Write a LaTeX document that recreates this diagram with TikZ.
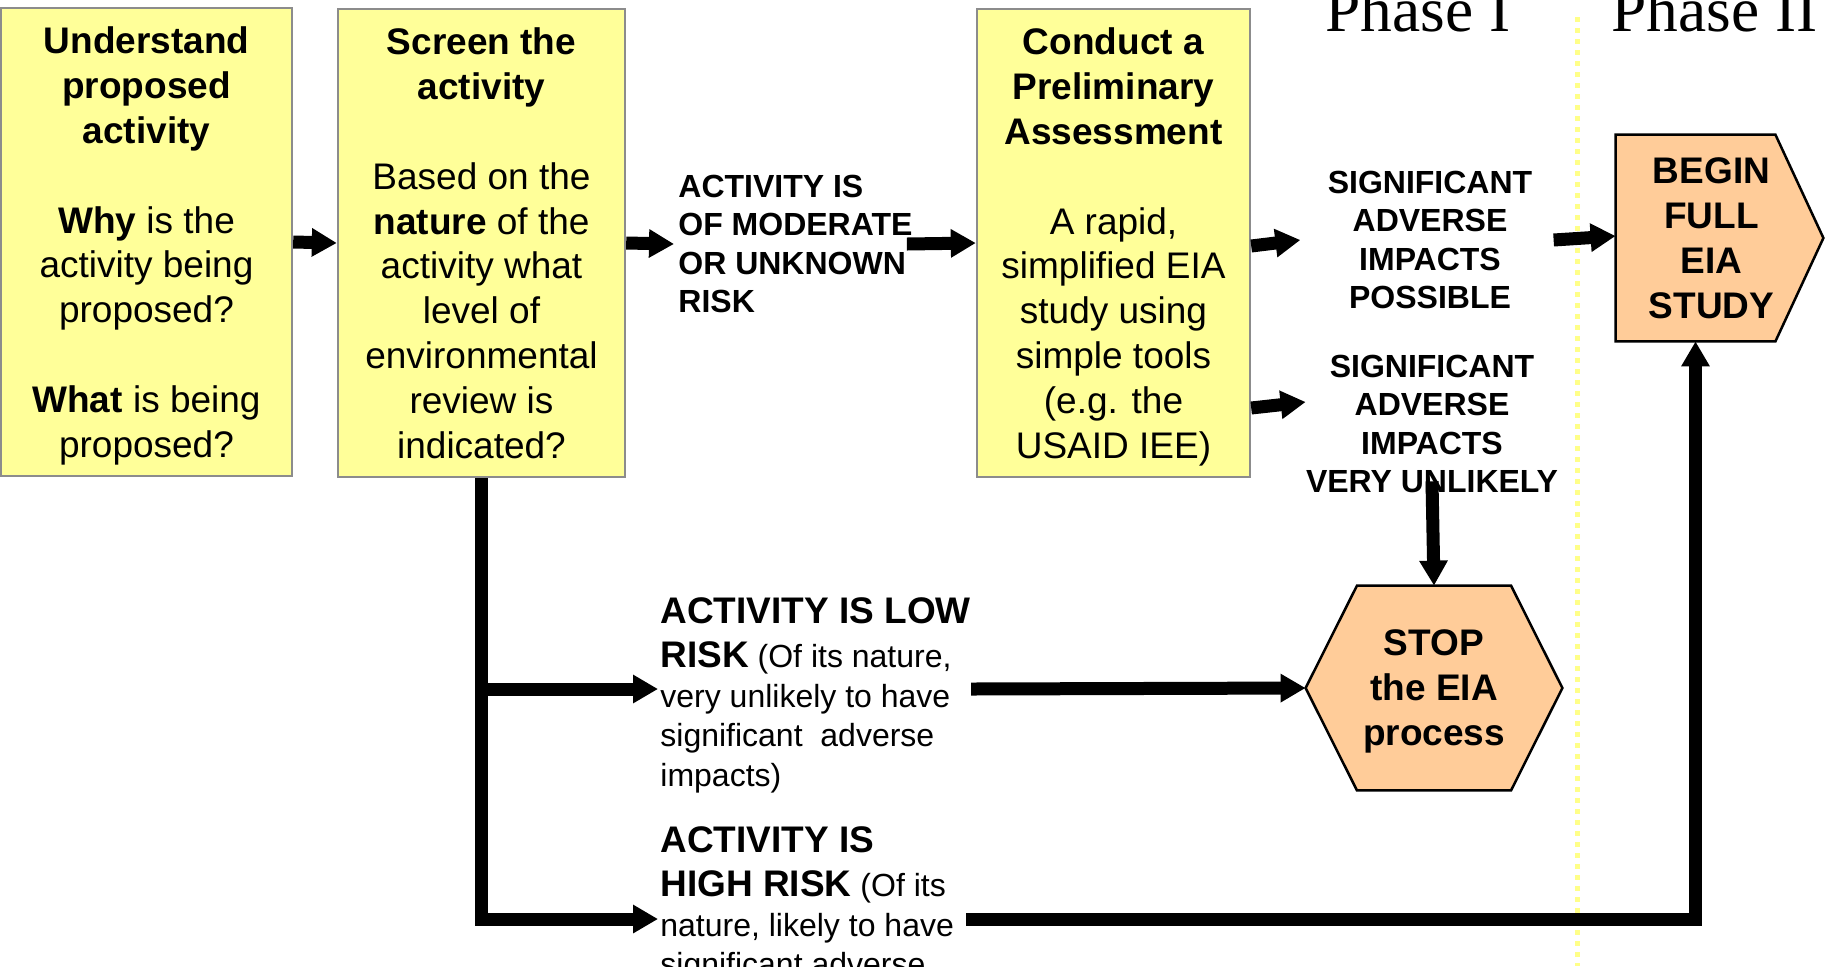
\documentclass[tikz,border=0pt]{standalone}
\usepackage{fontspec}
\setmainfont{Liberation Sans}
\newfontfamily\phasefont{Liberation Serif}
\usetikzlibrary{arrows.meta,calc,backgrounds}

\definecolor{boxyellow}{HTML}{FFFF99}
\definecolor{boxgray}{HTML}{8C8C8C}
\definecolor{endfill}{HTML}{FFCC99}
\definecolor{dotyellow}{HTML}{FFFF88}

\begin{document}
\begin{tikzpicture}[x=0.5pt,y=-0.5pt,
  stepbox/.style={draw=boxgray, line width=1.2pt, fill=boxyellow, align=center,
    inner sep=0pt, minimum height=234pt, text depth=0pt,
    font=\fontsize{18.5}{22.4}\selectfont},
  caps/.style={inner sep=0pt, font=\bfseries\fontsize{16}{19.2}\selectfont},
  risktext/.style={anchor=north west, inner sep=0pt, align=left,
    font=\fontsize{16}{19.8}\selectfont},
  endtext/.style={inner sep=0pt, align=center, text depth=0pt,
    font=\bfseries\fontsize{18.5}{22.5}\selectfont},
  endshape/.style={draw=black, line width=1.25pt, fill=endfill, line join=miter},
  arr/.style={line width=6.5pt, -{Triangle[length=12.5pt,width=13.5pt]}},
  phase/.style={anchor=base west, inner sep=0pt,
    font=\phasefont\fontsize{31.7}{36}\selectfont},
]
\useasboundingbox (0,0) rectangle (1826,966);
\clip (0,0) rectangle (1826,966);

% phase headings
\node[phase] (phaseone) at (1325,31) {Phase I};
\node[phase] (phasetwo) at (1611,31) {Phase II};

% process boxes
\node[stepbox, minimum width=145.5pt] (understand) at (146.5,242)
  {\textbf{Understand}\\\textbf{proposed}\\\textbf{activity}\\[22.4pt]
   \textbf{Why} is the\\activity being\\proposed?\\[22.4pt]
   \textbf{What} is being\\proposed?};
\node[stepbox, minimum width=143.5pt] (screen) at (481.5,243)
  {\textbf{Screen the}\\\textbf{activity}\\[22.4pt]
   Based on the\\\textbf{nature} of the\\activity what\\level of\\
   environmental\\review is\\indicated?};
\node[stepbox, minimum width=136.5pt] (conduct) at (1113.5,243)
  {\textbf{Conduct a}\\\textbf{Preliminary}\\\textbf{Assessment}\\[22.4pt]
   A rapid,\\simplified EIA\\study using\\simple tools\\(e.g. the\\USAID IEE)};

% outcome labels
\node[caps, align=left, anchor=west] (moderate) at (678,244)
  {ACTIVITY IS\\OF MODERATE\\OR UNKNOWN\\RISK};
\node[caps, align=center, inner xsep=13.5pt] (sigpos) at (1430,240)
  {SIGNIFICANT\\ADVERSE\\IMPACTS\\POSSIBLE};
\node[caps, align=center] (sigunl) at (1432,424)
  {SIGNIFICANT\\ADVERSE\\IMPACTS\\VERY UNLIKELY};

\node[risktext] (lowrisk) at (660,597.5)
  {{\bfseries\fontsize{18.5}{19.8}\selectfont ACTIVITY IS LOW}\\[2.2pt]
   {\bfseries\fontsize{18.5}{19.8}\selectfont RISK} (Of its nature,\\
   very unlikely to have\\significant\ \ adverse\\impacts)};
\node[risktext] (highrisk) at (660,826.5)
  {{\bfseries\fontsize{18.5}{19.8}\selectfont ACTIVITY IS}\\[2.2pt]
   {\bfseries\fontsize{18.5}{19.8}\selectfont HIGH RISK} (Of its\\
   nature, likely to have\\significant adverse};

% end points of the process
\node[endtext, minimum width=128pt, minimum height=102pt] (stop) at (1434,688)
  {STOP\\the EIA\\process};
\node[endtext, minimum width=79.5pt, minimum height=103pt] (begin) at (1695.5,238)
  {\hspace*{16pt}BEGIN\\\hspace*{16pt}FULL\\\hspace*{16pt}EIA\\\hspace*{16pt}STUDY};

\begin{scope}[on background layer]
  \draw[dotyellow, line width=2.5pt, dash pattern=on 2.5pt off 3pt]
    (1577,17) -- (1577,966);
  \path[endshape] (stop.west)
    -- ($(stop.north west)!0.2!(stop.north east)$)
    -- ($(stop.north west)!0.8!(stop.north east)$)
    -- (stop.east)
    -- ($(stop.south west)!0.8!(stop.south east)$)
    -- ($(stop.south west)!0.2!(stop.south east)$) -- cycle;
  \path[endshape] (begin.north west)
    -- (begin.north east)
    -- ([xshift=24pt]begin.east)
    -- (begin.south east)
    -- (begin.south west) -- cycle;
\end{scope}

% branch points on the screening trunk
\coordinate (lowin) at (658,689);
\coordinate (highin) at (658,919);

% connectors
\draw[arr] (understand.east) -- (screen.west);
\draw[arr] (screen.east) -- ([xshift=-2pt]moderate.west);
\draw[arr] ([xshift=-3pt]moderate.east) -- (conduct.west);
\draw[arr] ([yshift=-1.5pt]conduct.east) -- (sigpos.west);
\draw[arr] ([yshift=-82.5pt]conduct.east) -- ([yshift=11pt]sigunl.west);
\draw[arr] ([xshift=-3pt]sigpos.east) -- ([yshift=1pt]begin.west);
\draw[arr] ([yshift=6pt]sigunl.south) -- (stop.north);
\draw[arr] (screen.south) |- (highin);
\draw[arr] (screen.south |- lowin) -- (lowin);
\draw[arr] (lowrisk.east |- lowin) -- (stop.west);
\draw[arr] ([xshift=6pt]highrisk.east |- highin) -| (begin.south);
\end{tikzpicture}
\end{document}
